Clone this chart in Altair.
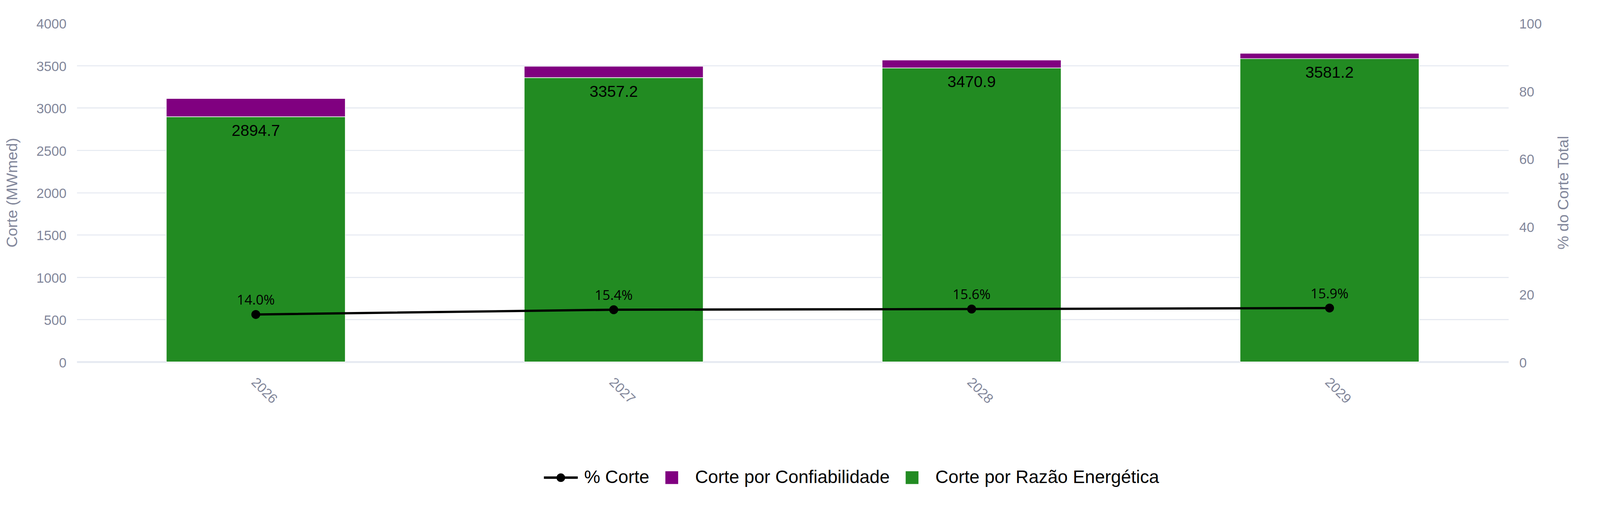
import altair as alt
import pandas as pd

# ---- data ----
anos = ["2026", "2027", "2028", "2029"]
corte_razao = [2894.7, 3357.2, 3470.9, 3581.2]      # Corte por Razão Energética (MWmed)
corte_conf = [215.0, 133.0, 94.0, 63.0]             # Corte por Confiabilidade (MWmed)
pct_corte = [14.0, 15.4, 15.6, 15.9]                # % Corte
series = ["% Corte", "Corte por Confiabilidade", "Corte por Razão Energética"]
cores = ["#000000", "#800080", "#228B22"]
y_ticks = [0, 500, 1000, 1500, 2000, 2500, 3000, 3500, 4000]
y2_ticks = [0, 20, 40, 60, 80, 100]

wide = pd.DataFrame({"ano": anos, "razao": corte_razao, "conf": corte_conf, "pct": pct_corte})
long = pd.concat([
    pd.DataFrame({"ano": anos, "serie": series[2], "valor": corte_razao, "ordem": 0}),
    pd.DataFrame({"ano": anos, "serie": series[1], "valor": corte_conf, "ordem": 1}),
], ignore_index=True)

F = "Liberation Sans"
GREY = "#82879B"
GRID = "#E5E9F1"

# the same x definition in every layer, so the shared axis is kept
x_enc = alt.X(
    "ano:N",
    title=None,
    scale=alt.Scale(paddingInner=0.5, paddingOuter=0.25),
    axis=alt.Axis(labelAngle=45, labelAlign="left", labelBaseline="top",
                  labelPadding=36, labelOffset=6, labelFontSize=36, labelFont=F,
                  labelColor=GREY, domain=False, ticks=False, grid=False),
)

left_axis = alt.Axis(
    values=y_ticks, format="d", title="Corte (MWmed)", titleFontSize=41, titleFont=F,
    titleColor=GREY, titleFontWeight="normal", titleAngle=270, titleX=-171,
    titleY=450.5, titleAlign="center", titleBaseline="middle",
    labelFontSize=36, labelFont=F, labelColor=GREY, labelPadding=28, labelOffset=3,
    ticks=False, domain=False, grid=True, gridColor=GRID,
    gridWidth={"condition": {"test": "datum.value === 0", "value": 5}, "value": 2.7},
    gridOpacity={"condition": {"test": "datum.value === 4000", "value": 0}, "value": 1},
)
right_axis = alt.Axis(
    values=y2_ticks, format="d", orient="right", title="% do Corte Total", titleFontSize=41,
    titleFont=F, titleColor=GREY, titleFontWeight="normal", titleAngle=270,
    titleX=147, titleY=450.5, titleAlign="center", titleBaseline="middle",
    labelFontSize=36, labelFont=F, labelColor=GREY, labelPadding=28, labelOffset=3,
    ticks=False, domain=False, grid=False,
)

line_path = ("M-1,-0.072L1,-0.072L1,0.072L-1,0.072Z "
             "M-0.256,0A0.256,0.256,0,1,1,0.256,0A0.256,0.256,0,1,1,-0.256,0Z")
square_path = "M-0.378,-0.378L0.378,-0.378L0.378,0.378L-0.378,0.378Z"

legend = alt.Legend(
    title=None, orient="none", legendX=1242, legendY=1164, direction="horizontal",
    symbolType={"expr": f"datum.value === '% Corte' ? '{line_path}' : '{square_path}'"},
    symbolSize=8100, symbolStrokeWidth=0, symbolOpacity=1,
    labelFontSize=48, labelFont=F, labelColor="black", labelOffset=17,
    columnPadding=14, labelLimit=2000, padding=0,
)

left_scale = alt.Scale(domain=[0, 4000], nice=False)
right_scale = alt.Scale(domain=[0, 100], nice=False)

bars = alt.Chart(long).mark_bar(stroke="white", strokeWidth=1.5).encode(
    x=x_enc,
    y=alt.Y("valor:Q", stack="zero", scale=left_scale, axis=left_axis),
    color=alt.Color("serie:N", scale=alt.Scale(domain=series, range=cores), legend=legend),
    order=alt.Order("ordem:Q", sort="ascending"),
)

bar_text = alt.Chart(wide).mark_text(
    baseline="alphabetic", dy=51, fontSize=42, font=F, color="black", align="center"
).encode(
    x=x_enc,
    y=alt.Y("razao:Q", scale=left_scale, axis=None),
    text=alt.Text("razao:Q", format=".1f"),
)

line = alt.Chart(wide).mark_line(color="black", strokeWidth=6).encode(
    x=x_enc, y=alt.Y("pct:Q", scale=right_scale, axis=right_axis))
points = alt.Chart(wide).mark_circle(color="black", size=560, opacity=1).encode(
    x=x_enc, y=alt.Y("pct:Q", scale=right_scale, axis=None))
pct_text = alt.Chart(wide).transform_calculate(
    rotulo="format(datum.pct, '.1f') + '%'"
).mark_text(
    baseline="alphabetic", dy=-26, fontSize=36, font="Open Sans", color="black", align="center"
).encode(x=x_enc, y=alt.Y("pct:Q", scale=right_scale, axis=None), text="rotulo:N")

chart = alt.layer(bars, bar_text, line, points, pct_text).resolve_scale(y="independent").properties(
    width=3807,
    height=901,
    padding={"left": 196, "top": 28, "right": 235, "bottom": 377},
    autosize=alt.AutoSizeParams(type="none"),
    background="white",
).configure_view(stroke=None)

chart.save("out.html", embed_options={"renderer": "svg", "actions": False})
